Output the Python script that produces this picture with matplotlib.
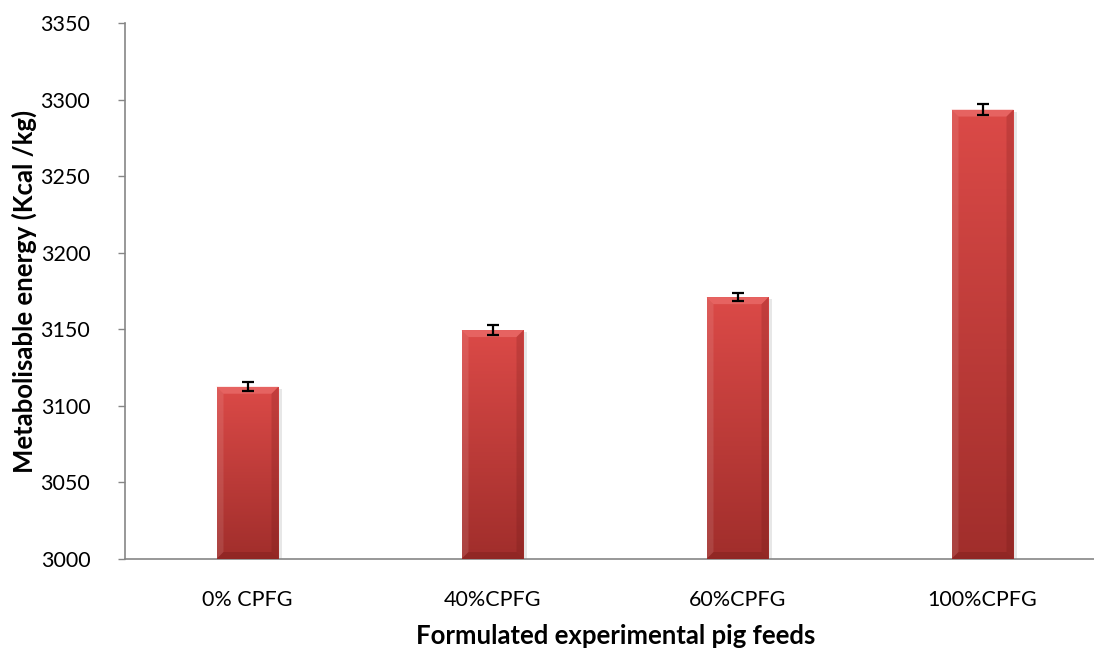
import numpy as np
import matplotlib
matplotlib.use("Agg")
import matplotlib.pyplot as plt
from matplotlib.patches import Polygon

categories = ["0% CPFG", "40%CPFG", "60%CPFG", "100%CPFG"]
values = [3112.5, 3149.5, 3171.0, 3293.5]
errors = [3.0, 3.0, 2.5, 3.5]
y_ticks = [3000, 3050, 3100, 3150, 3200, 3250, 3300, 3350]

plt.rcParams['font.family'] = ['Lato', 'DejaVu Sans']

W, H = 1094, 652
fig = plt.figure(figsize=(W / 100, H / 100), dpi=100)
left_px, right_px = 125, 125 + 980
top_px, bot_px = 23, 559
ax = fig.add_axes([left_px / W, 1 - bot_px / H, (right_px - left_px) / W, (bot_px - top_px) / H])

x = np.arange(len(categories))
bw = 0.253
bars = ax.bar(x, [v - y_ticks[0] for v in values], width=bw, bottom=y_ticks[0],
              color="#C93C3A", edgecolor="none", zorder=2)

px_x = 1.0 / 245          # data units per pixel (x)
px_y = 350.0 / (bot_px - top_px)  # data units per pixel (y)

ny, nx = 200, 60
yy = np.linspace(0, 1, ny)[:, None]
xx = np.linspace(0, 1, nx)[None, :]
base_light = np.array([0.86, 0.29, 0.28])
base_dark = np.array([0.63, 0.18, 0.17])
for b, v in zip(bars, values):
    x0 = b.get_x()
    w = b.get_width()
    y0 = y_ticks[0]
    hgt = v - y0
    t = yy * np.ones_like(xx)
    col = base_dark[None, None, :] + (base_light - base_dark)[None, None, :] * t[..., None]
    im = ax.imshow(col[::-1], extent=[x0, x0 + w, y0, v], aspect='auto', zorder=3,
                   interpolation='bilinear')
    im.set_clip_path(b)
    dx = 7 * px_x
    dy = 7 * px_y
    # bevel facets
    top = Polygon([(x0, v), (x0 + w, v), (x0 + w - dx, v - dy), (x0 + dx, v - dy)],
                  closed=True, facecolor="#F07A78", alpha=0.55, edgecolor='none', zorder=4)
    lft = Polygon([(x0, v), (x0 + dx, v - dy), (x0 + dx, y0 + dy), (x0, y0)],
                  closed=True, facecolor="#FFFFFF", alpha=0.10, edgecolor='none', zorder=4)
    rgt = Polygon([(x0 + w, v), (x0 + w - dx, v - dy), (x0 + w - dx, y0 + dy), (x0 + w, y0)],
                  closed=True, facecolor="#5A0F0F", alpha=0.18, edgecolor='none', zorder=4)
    bot = Polygon([(x0, y0), (x0 + w, y0), (x0 + w - dx, y0 + dy), (x0 + dx, y0 + dy)],
                  closed=True, facecolor="#5A0F0F", alpha=0.22, edgecolor='none', zorder=4)
    for p in (top, lft, rgt, bot):
        ax.add_patch(p)
    # soft shadow on right
    ax.bar(x0 + w + 0.003, hgt - 2 * px_y, width=0.012, bottom=y0, align='edge',
           color="#BBBBBB", alpha=0.35, edgecolor='none', zorder=1)

ax.errorbar(x, values, yerr=errors, fmt='none', ecolor='black', elinewidth=1.6,
            capsize=4.5, capthick=1.6, zorder=5)

ax.set_xlim(-0.5, len(categories) - 0.5)
ax.set_ylim(3000, 3350)
ax.set_yticks(y_ticks)
ax.set_yticklabels([str(t) for t in y_ticks], fontsize=15.5)
ax.set_xticks(x)
ax.set_xticklabels(categories, fontsize=15.5)
ax.tick_params(axis='x', length=0, pad=22)
ax.tick_params(axis='y', length=5, width=1, color='#868686', pad=20, direction='out')

for s in ['top', 'right']:
    ax.spines[s].set_visible(False)
for s in ['left', 'bottom']:
    ax.spines[s].set_color('#868686')
    ax.spines[s].set_linewidth(1.2)

fig.text(24 / W, 1 - 291 / H, "Metabolisable energy (Kcal /kg)", rotation=90,
         fontsize=18.5, fontweight='bold', ha='center', va='center')
fig.text(616 / W, 1 - 636 / H, "Formulated experimental pig feeds",
         fontsize=18.5, fontweight='bold', ha='center', va='center')

fig.savefig("out.png", dpi=100)
